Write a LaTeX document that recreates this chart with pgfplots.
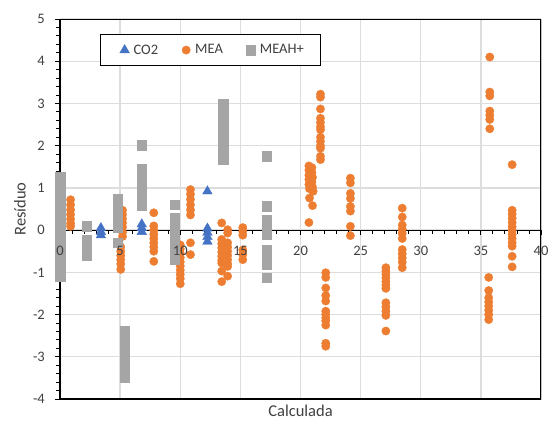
\documentclass[border=0pt]{standalone}
\usepackage{pgfplots}
\pgfplotsset{compat=1.18}
\usepackage{fontspec}
\setmainfont{Carlito}
\definecolor{cBlue}{HTML}{4472C4}
\definecolor{cOrange}{HTML}{ED7D31}
\definecolor{cGray}{HTML}{A5A5A5}
\definecolor{gridc}{HTML}{DDDDDD}
\definecolor{txt}{HTML}{404040}
\begin{document}
\begin{tikzpicture}
\begin{axis}[
  scale only axis, width=481pt, height=380pt,
  at={(0,0)}, anchor=south west,
  xmin=0, xmax=40, ymin=-4, ymax=5,
  axis x line*=middle, axis y line*=left,
  hide obscured x ticks=false,
  xtick={0,5,...,40}, xticklabels={},
  ytick={-4,...,5}, yticklabels={},
  minor x tick num=4, minor y tick num=4,
  tick align=outside, major tick length=5pt, minor tick length=3.5pt,
  tick style={black, line width=0.9pt},
  axis line style={black, line width=1.2pt},
  grid=major, major grid style={gridc, line width=1.3pt},
  xlabel={Calculada}, ylabel={Resíduo},
  label style={font=\fontsize{16.5}{18}\selectfont, text=txt},
  xlabel style={at={(rel axis cs:0.5,0)}, anchor=north, inner sep=0pt, yshift=-6pt},
  ylabel style={at={(rel axis cs:-0.0832,0.5)}, anchor=center, inner sep=0pt},
  legend style={at={(rel axis cs:0.0832,0.9605)}, anchor=north west, draw=black, line width=1.2pt, fill=white,
    font=\fontsize{14.5}{16}\selectfont, text=txt, legend columns=3, inner xsep=13pt, inner ysep=8pt,
    nodes={inner xsep=4pt},
    /tikz/every even column/.append style={column sep=13pt}},
  legend cell align=left,
  legend image code/.code={\path[draw=none,fill=none] (-11pt,0pt) (5pt,0pt); \draw[mark repeat=2,mark phase=2,#1] plot coordinates {(-5pt,0pt) (0pt,0pt) (5pt,0pt)};},
]
\draw[black, line width=1.2pt] (rel axis cs:0,0) rectangle (rel axis cs:1,1);
\addplot[only marks, color=cBlue, mark=triangle*, mark size=5.6pt, mark options={fill=cBlue, draw=cBlue, line width=0.3pt}] coordinates {
(3.4,0.05)(3.4,-0.04)(3.4,-0.12)
(6.8,0.14)(6.8,0.05)(6.8,-0.04)
(12.26,0.92)(12.26,0.04)(12.26,-0.06)(12.26,-0.16)(12.26,-0.27)
};
\addlegendentry{CO2}
\addplot[only marks, color=cOrange, mark=*, mark size=4.2pt, mark options={fill=cOrange, draw=cOrange, line width=0.3pt}] coordinates {
(0.88,0.72)(0.88,0.6)(0.88,0.48)(0.88,0.37)(0.88,0.26)(0.88,0.16)(0.88,0.09)
(5.2,0.47)(5.2,0.37)(5.2,0.27)(5.2,0.17)(5.2,0.07)(5.2,-0.05)(5.2,-0.15)
(5.05,-0.4)(5.05,-0.5)(5.05,-0.6)(5.05,-0.7)(5.05,-0.8)(5.05,-0.93)
(7.8,0.41)(7.8,0.1)(7.8,0.0)(7.8,-0.1)(7.8,-0.2)(7.8,-0.3)(7.8,-0.4)(7.8,-0.5)(7.8,-0.74)
(10.0,-0.35)(10.0,-0.45)(10.0,-0.55)(10.0,-0.65)(10.0,-0.75)(10.0,-0.85)(10.0,-0.95)(10.0,-1.05)(10.0,-1.15)(10.0,-1.27)
(10.85,0.96)(10.85,0.85)(10.85,0.73)(10.85,0.6)(10.85,0.48)(10.85,0.36)(10.85,-0.3)(10.85,-0.58)
(13.45,0.17)(13.45,-0.22)(13.45,-0.32)(13.45,-0.42)(13.45,-0.52)(13.45,-0.62)(13.45,-0.72)(13.45,-0.78)(13.45,-0.97)(13.45,-1.22)
(13.94,0.01)(13.94,-0.07)(13.94,-0.3)(13.94,-0.4)(13.94,-0.5)(13.94,-0.6)(13.94,-0.7)(13.94,-0.8)(13.94,-0.86)(13.94,-1.09)
(15.2,0.06)(15.2,-0.03)(15.2,-0.12)(15.2,-0.47)(15.2,-0.58)(15.2,-0.7)
(20.7,1.52)(20.95,1.48)(20.7,1.42)(20.95,1.36)(20.7,1.3)(21.0,1.25)(20.7,1.2)(20.95,1.14)(20.7,1.08)(21.0,1.02)(20.75,0.98)(21.05,0.92)(20.75,0.76)(21.0,0.58)(20.7,0.18)
(21.66,3.22)(21.66,3.15)(21.66,2.87)(21.66,2.65)(21.66,2.55)(21.66,2.45)(21.66,2.38)(21.66,2.2)(21.66,2.1)(21.66,2.0)(21.66,1.94)(21.66,1.75)(21.66,1.67)
(22.1,-1.01)(22.1,-1.12)(22.1,-1.37)(22.1,-1.55)(22.1,-1.68)(22.1,-1.92)(22.1,-2.0)(22.1,-2.08)(22.1,-2.15)(22.1,-2.25)(22.1,-2.68)(22.1,-2.75)
(24.15,1.23)(24.15,1.12)(24.15,0.87)(24.15,0.75)(24.15,0.56)(24.15,0.45)(24.15,0.09)(24.15,-0.13)
(27.1,-0.89)(27.1,-0.97)(27.1,-1.05)(27.1,-1.13)(27.1,-1.22)(27.1,-1.3)(27.1,-1.38)(27.1,-1.72)(27.1,-1.82)(27.1,-1.92)(27.1,-2.02)(27.1,-2.39)
(28.46,0.52)(28.46,0.31)(28.46,0.12)(28.46,0.02)(28.46,-0.08)(28.46,-0.2)(28.46,-0.46)(28.46,-0.56)(28.46,-0.66)(28.46,-0.76)(28.46,-0.89)
(35.74,4.1)(35.74,3.27)(35.74,3.18)(35.74,2.82)(35.74,2.72)(35.74,2.62)(35.74,2.4)
(35.65,-1.12)(35.65,-1.43)(35.65,-1.6)(35.65,-1.7)(35.65,-1.8)(35.65,-1.9)(35.65,-2.0)(35.65,-2.12)
(37.6,1.55)(37.6,0.47)(37.6,0.38)(37.6,0.28)(37.6,0.18)(37.6,0.08)(37.6,0.0)(37.6,-0.1)(37.6,-0.2)(37.6,-0.3)(37.6,-0.38)(37.6,-0.62)(37.6,-0.87)
};
\addlegendentry{MEA}
\addplot[only marks, color=cGray, mark=square*, mark size=4.7pt, mark options={fill=cGray, draw=cGray, line width=0.3pt}] coordinates {
(0,1.25)(0,1.13)(0,1.01)(0,0.89)(0,0.77)(0,0.65)(0,0.53)(0,0.41)(0,0.29)(0,0.17)(0,0.05)(0,-0.07)(0,-0.19)(0,-0.31)(0,-0.43)(0,-0.55)(0,-0.67)(0,-0.79)(0,-0.91)(0,-1.03)(0,-1.09)
(2.24,0.09)(2.24,-0.22)(2.24,-0.34)(2.24,-0.46)(2.24,-0.6)
(4.81,0.74)(4.81,0.62)(4.81,0.5)(4.81,0.38)(4.81,0.26)(4.81,0.14)(4.81,0.07)(4.81,-0.3)
(5.4,-2.38)(5.4,-2.5)(5.4,-2.62)(5.4,-2.74)(5.4,-2.86)(5.4,-2.98)(5.4,-3.1)(5.4,-3.22)(5.4,-3.34)(5.4,-3.48)
(6.8,2.01)(6.8,1.45)(6.8,1.33)(6.8,1.21)(6.8,1.09)(6.8,0.97)(6.8,0.85)(6.8,0.73)(6.8,0.59)
(9.55,0.6)(9.55,0.28)(9.55,0.16)(9.55,0.04)(9.55,-0.08)(9.55,-0.2)(9.55,-0.32)(9.55,-0.44)(9.55,-0.56)(9.55,-0.7)
(13.58,2.98)(13.58,2.72)(13.58,2.6)(13.58,2.48)(13.58,2.36)(13.58,2.24)(13.58,2.12)(13.58,2.0)(13.58,1.88)(13.58,1.76)(13.58,1.68)
(17.2,1.75)(17.2,0.57)(17.2,0.25)(17.2,0.13)(17.2,0.01)(17.2,-0.11)(17.2,-0.46)(17.2,-0.58)(17.2,-0.7)(17.2,-0.82)(17.2,-1.12)
};
\addlegendentry{MEAH+}
\end{axis}
\begin{axis}[
  scale only axis, width=481pt, height=380pt,
  at={(0,0)}, anchor=south west,
  xmin=0, xmax=40, ymin=-4, ymax=5,
  axis x line*=middle, axis y line*=left,
  hide obscured x ticks=false,
  axis line style={draw=none}, major tick length=0pt, minor tick length=0pt,
  xtick={0,5,...,40}, xticklabels={0,5,10,15,20,25,30,35,40},
  ytick={-4,...,5}, yticklabels={-4,-3,-2,-1,0,1,2,3,4,5},
  ticklabel style={font=\fontsize{14.5}{16}\selectfont, text=txt, inner sep=0pt},
  xticklabel style={anchor=north, yshift=-16pt},
  yticklabel style={anchor=east, xshift=-15pt},
]
\end{axis}
\pgfresetboundingbox
\path[use as bounding box] (-60pt,-22pt) rectangle (488pt,399pt);
\end{tikzpicture}
\end{document}
